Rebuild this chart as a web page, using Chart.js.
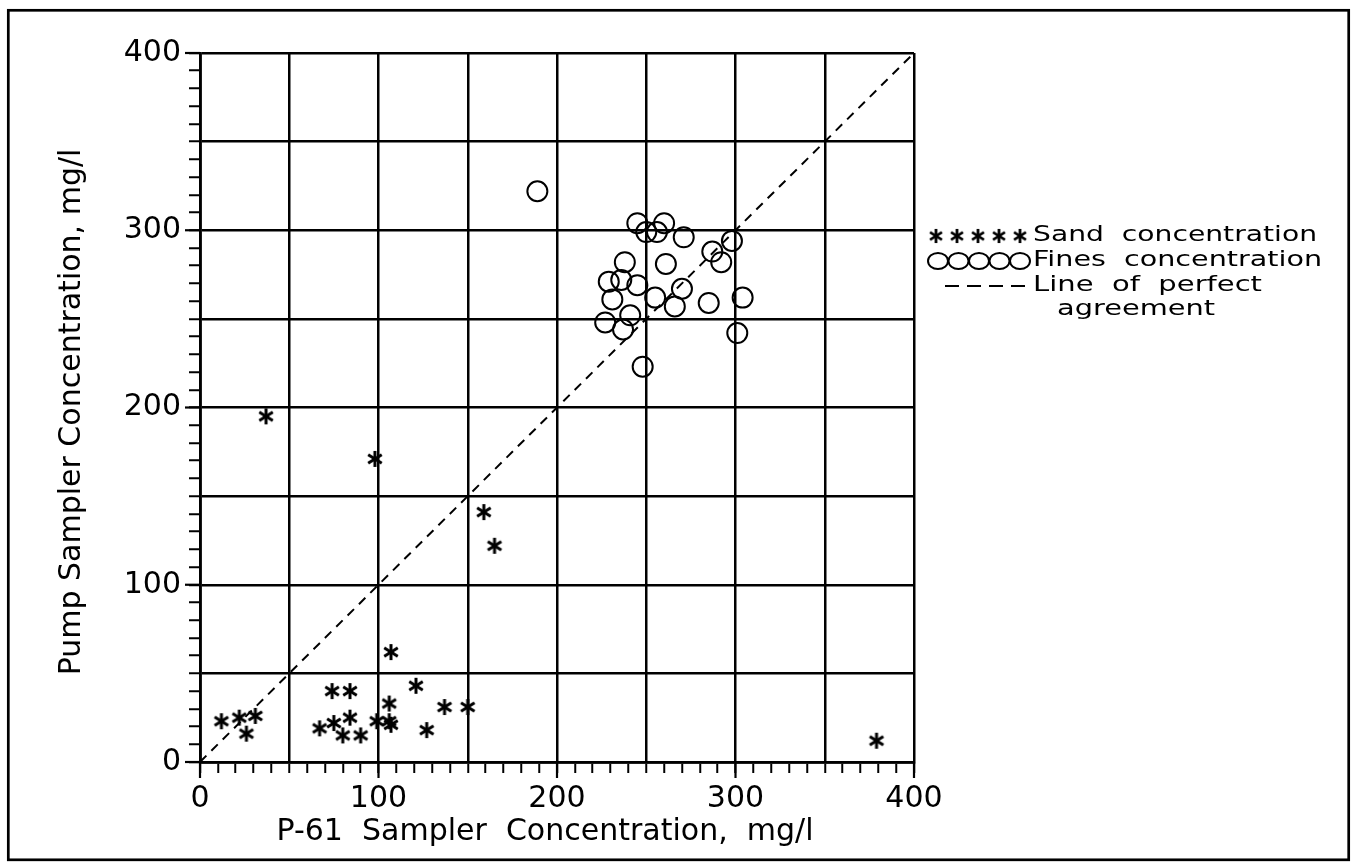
<!DOCTYPE html>
<html>
<head>
<meta charset="utf-8">
<script src="https://cdn.jsdelivr.net/npm/chart.js@4"></script>
<style>
  html, body { margin: 0; padding: 0; background: #fff; }
  #wrap { width: 1352px; height: 865px; }
</style>
</head>
<body>
<div id="wrap"><canvas id="concChart" width="1352" height="865"></canvas></div>
<script>
// sand concentration (asterisks)
const sandX = [37, 98, 159, 165, 107, 74, 84, 121, 106, 137, 150, 12, 22, 31, 26, 67, 75, 80, 84, 90, 99, 106, 107, 127, 379];
const sandY = [195, 171, 141, 122, 62, 40, 40, 43, 33, 31, 31, 23, 25, 26, 16, 19, 22, 15, 25, 15, 23, 23, 21, 18, 12];

// fines concentration (circles)
const finesX = [189, 245, 260, 250, 256, 271, 298, 287, 292, 238, 261, 229, 236, 245, 270, 231, 255, 266, 285, 304, 241, 227, 237, 301, 248];
const finesY = [322, 304, 304, 299, 299, 296, 294, 288, 282, 282, 281, 271, 272, 269, 267, 261, 262, 257, 259, 262, 252, 248, 244, 242, 223];

// line of perfect agreement
const perfectX = [0, 400];
const perfectY = [0, 400];

const tickLabels = [0, 100, 200, 300, 400];
const xTitle = 'P-61  Sampler  Concentration,  mg/l';
const yTitle = 'Pump Sampler Concentration, mg/l';
const legendLabels = ['Sand  concentration', 'Fines  concentration', 'Line  of  perfect', 'agreement'];

const toPoints = (xs, ys) => xs.map((x, i) => ({x: x, y: ys[i]}));

// six armed asterisk like the plotter one
function makeStar(size, lw) {
  const c = document.createElement('canvas');
  c.width = size; c.height = size;
  const g = c.getContext('2d');
  g.strokeStyle = '#000';
  g.lineWidth = lw;
  g.translate(size / 2, size / 2);
  const r = size / 2 - 1;
  [90, 32, 148].forEach(a => {
    const rad = a * Math.PI / 180;
    g.beginPath();
    g.moveTo(-r * Math.cos(rad), -r * Math.sin(rad));
    g.lineTo(r * Math.cos(rad), r * Math.sin(rad));
    g.stroke();
  });
  return c;
}
const starMark = makeStar(18, 3);

const FONT = "'DejaVu Sans', sans-serif";

const paperPlugin = {
  id: 'paper',
  beforeDraw(chart) {
    const ctx = chart.ctx;
    ctx.save();
    ctx.fillStyle = '#fff';
    ctx.fillRect(0, 0, chart.width, chart.height);
    ctx.restore();
  },
  afterDraw(chart) {
    const ctx = chart.ctx;
    const xs = chart.scales.x, ys = chart.scales.y;
    ctx.save();
    // outer frame
    ctx.strokeStyle = '#000';
    ctx.lineWidth = 2.7;
    ctx.strokeRect(8.3, 10.3, 1340.4, 849.5);

    // longer ticks at the labelled values
    ctx.lineWidth = 2.2;
    tickLabels.forEach(v => {
      const px = xs.getPixelForValue(v);
      ctx.beginPath(); ctx.moveTo(px, ys.bottom); ctx.lineTo(px, ys.bottom + 16); ctx.stroke();
      const py = ys.getPixelForValue(v);
      ctx.beginPath(); ctx.moveTo(xs.left, py); ctx.lineTo(xs.left - 15, py); ctx.stroke();
    });

    // axis titles
    ctx.fillStyle = '#000';
    ctx.font = '30px ' + FONT;
    ctx.textAlign = 'center';
    ctx.textBaseline = 'alphabetic';
    ctx.fillText(xTitle, 545, 840);
    ctx.save();
    ctx.translate(80, 412);
    ctx.rotate(-Math.PI / 2);
    ctx.fillText(yTitle, 0, 0);
    ctx.restore();

    // legend
    const textX = 1033;
    const rows = [236, 261, 286, 310];
    const widths = [284, 289, 229, 158];
    const starts = [textX, textX, textX, 1057];
    ctx.font = '21px ' + FONT;
    ctx.textBaseline = 'middle';
    ctx.textAlign = 'left';
    legendLabels.forEach((t, i) => {
      const w = ctx.measureText(t).width;
      ctx.save();
      ctx.translate(starts[i], rows[i]);
      ctx.scale(widths[i] / w, 1);
      ctx.fillText(t, 0, 0);
      ctx.restore();
    });
    // five asterisks
    for (let k = 0; k < 5; k++) {
      ctx.drawImage(starMark, 936 + k * 21 - 8, rows[0] - 8, 16, 16);
    }
    // five circles
    ctx.lineWidth = 2;
    for (let k = 0; k < 5; k++) {
      ctx.beginPath();
      ctx.ellipse(938 + k * 20.5, rows[1], 10, 8, 0, 0, Math.PI * 2);
      ctx.stroke();
    }
    // dashes
    for (let k = 0; k < 4; k++) {
      ctx.beginPath();
      ctx.moveTo(945 + k * 22, rows[2]);
      ctx.lineTo(959 + k * 22, rows[2]);
      ctx.stroke();
    }
    ctx.restore();
  }
};

function axisOptions(isX) {
  return {
    type: 'linear',
    min: 0,
    max: 400,
    afterFit(scale) {
      if (isX) scale.height = 103; else scale.width = 200;
    },
    ticks: {
      stepSize: 10,
      autoSkip: false,
      maxRotation: 0,
      padding: 8,
      color: '#000',
      font: {family: FONT, size: 30},
      callback: v => tickLabels.includes(v) ? String(v) : ''
    },
    grid: {
      color: c => (c.tick && c.tick.value % 50 === 0) ? '#000' : 'rgba(0,0,0,0)',
      tickColor: '#000',
      lineWidth: 2.5,
      tickWidth: 2,
      tickLength: 11
    },
    border: {display: true, color: '#000', width: 2.8},
    title: {display: false}
  };
}

const ctx = document.getElementById('concChart').getContext('2d');
const concChart = new Chart(ctx, {
  type: 'scatter',
  data: {
    datasets: [
      {
        label: 'Sand concentration',
        data: toPoints(sandX, sandY),
        pointStyle: starMark,
        pointRadius: 9,
        borderColor: '#000',
        backgroundColor: '#000'
      },
      {
        label: 'Fines concentration',
        data: toPoints(finesX, finesY),
        pointStyle: 'circle',
        pointRadius: 10,
        borderWidth: 2,
        borderColor: '#000',
        backgroundColor: 'rgba(0,0,0,0)'
      },
      {
        label: 'Line of perfect agreement',
        data: toPoints(perfectX, perfectY),
        showLine: true,
        pointRadius: 0,
        borderColor: '#000',
        borderWidth: 2,
        borderDash: [9, 7]
      }
    ]
  },
  options: {
    responsive: false,
    animation: false,
    layout: {padding: {left: 0, top: 53, right: 438, bottom: 0}},
    plugins: {
      legend: {display: false},
      tooltip: {enabled: false}
    },
    scales: {
      x: axisOptions(true),
      y: axisOptions(false)
    }
  },
  plugins: [paperPlugin]
});
</script>
</body>
</html>
